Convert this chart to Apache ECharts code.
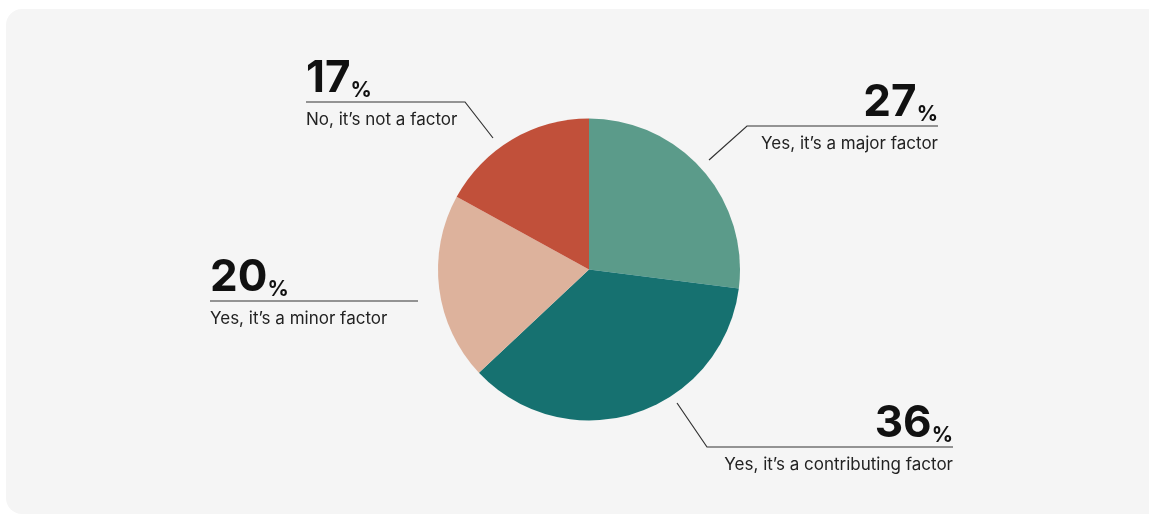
<!DOCTYPE html>
<html>
<head>
<meta charset="utf-8">
<script src="https://cdn.jsdelivr.net/npm/echarts@6/dist/echarts.min.js"></script>
<style>
  html, body { margin: 0; padding: 0; background: #fff; }
  #chart { width: 1149px; height: 515px; }
</style>
</head>
<body>
<div id="chart"></div>
<script>
const categories = ['Yes, it’s a major factor', 'Yes, it’s a contributing factor', 'Yes, it’s a minor factor', 'No, it’s not a factor'];
const shares = [27, 36, 20, 17];
const sliceColors = ['#5b9b8a', '#167170', '#ddb29c', '#c1503a'];

// label guides: start near the slice, elbow, then the rule under the number
const guides = [
  { pts: [[709, 160], [747, 126], [938, 126]], align: 'right' },
  { pts: [[677, 403], [707, 447], [953, 447]], align: 'right' },
  { pts: [[418, 301], [418, 301], [210, 301]], align: 'left' },
  { pts: [[493, 138], [465, 102], [306, 102]], align: 'left' }
];

const FONT = 'Inter, "Noto Sans", sans-serif';

const chart = echarts.init(document.getElementById('chart'), null, { renderer: 'canvas' });

const option = {
  backgroundColor: '#ffffff',
  animation: false,
  graphic: [{
    type: 'rect',
    z: -10,
    shape: { x: 6, y: 9, width: 1160, height: 505, r: 16 },
    style: { fill: '#f5f5f5' }
  }],
  series: [{
    type: 'pie',
    center: [589, 269.5],
    radius: 151,
    startAngle: 90,
    clockwise: true,
    avoidLabelOverlap: false,
    itemStyle: { borderWidth: 0 },
    emphasis: { disabled: true },
    data: shares.map((v, i) => ({
      name: categories[i],
      value: v,
      itemStyle: { color: sliceColors[i] }
    })),
    label: {
      show: true,
      position: 'outside',
      fontFamily: FONT,
      formatter: p => '{num|' + p.value + '}{pct|%}\n{name|' + p.name + '}',
      rich: {
        num: { fontFamily: FONT, fontSize: 44, fontWeight: 700, color: '#111', lineHeight: 52, verticalAlign: 'bottom' },
        pct: { fontFamily: FONT, fontSize: 21, fontWeight: 700, color: '#111', lineHeight: 52, verticalAlign: 'bottom' },
        name: { fontFamily: FONT, fontSize: 17, color: '#222', lineHeight: 38 }
      }
    },
    labelLine: {
      show: true,
      lineStyle: { color: '#333', width: 1.2 }
    },
    labelLayout: function (params) {
      const g = guides[params.dataIndex];
      const end = g.pts[2];
      return {
        x: end[0],
        y: end[1] - 53,
        align: g.align,
        verticalAlign: 'top',
        labelLinePoints: g.pts
      };
    }
  }]
};

chart.setOption(option);
</script>
</body>
</html>
